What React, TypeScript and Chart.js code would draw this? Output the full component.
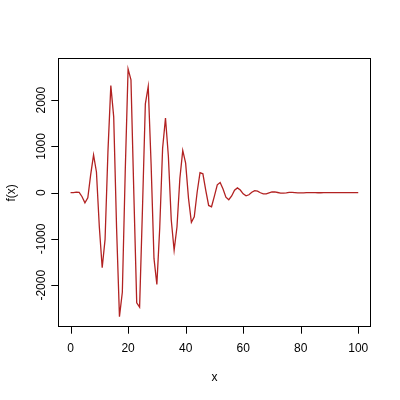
import { useEffect, useRef } from "react";
import { Chart, registerables } from "chart.js";

Chart.register(...registerables);

const xValues = [
  0, 1, 2, 3, 4, 5, 6, 7, 8, 9, 10, 11, 12, 13, 14, 15, 16, 17, 18, 19, 20,
  21, 22, 23, 24, 25, 26, 27, 28, 29, 30, 31, 32, 33, 34, 35, 36, 37, 38, 39, 40,
  41, 42, 43, 44, 45, 46, 47, 48, 49, 50, 51, 52, 53, 54, 55, 56, 57, 58, 59, 60,
  61, 62, 63, 64, 65, 66, 67, 68, 69, 70, 71, 72, 73, 74, 75, 76, 77, 78, 79, 80,
  81, 82, 83, 84, 85, 86, 87, 88, 89, 90, 91, 92, 93, 94, 95, 96, 97, 98, 99, 100,
];

const fValues = [
  0, 0.7, 9.8, 6.3, -87, -220, -109, 389, 818, 447, -736,
  -1622, -1009, 891, 2314, 1639, -769, -2680, -2154, 437, 2675,
  2440, -26, -2380, -2473, -348, 1922, 2296, 616, -1421, -1984,
  -757, 961, 1613, 788, -586, -1244, -737, 309, 914, 640,
  -123, -641, -524, 10, 431, 408, 50, -276, -305, -74,
  169, 220, 78, -97, -153, -70, 52, 103, 58, -24,
  -67, -45, 9, 43, 33, -1, -26, -24, -3, 15,
  16, 4, -9, -11, -4, 5, 7, 3, -2, -5,
  -2.5, 1.1, 2.8, 1.8, -0.4, -1.7, -1.3, 0, 1, 0.9,
  0.1, -0.6, -0.6, -0.1, 0.4, 0.5, 0.2, -0.3, -0.3, -0.1,
];

const xTicks = [0, 20, 40, 60, 80, 100];
const yTicks = [-2000, -1000, 0, 1000, 2000];
const xLabel = "x";
const yLabel = "f(x)";

const FONT = '12px "Liberation Sans", Arial, Helvetica, sans-serif';

const rBasePlot = {
  id: "rBasePlot",
  beforeDraw(chart: any) {
    const ctx = chart.ctx;
    ctx.save();
    ctx.fillStyle = "#ffffff";
    ctx.fillRect(0, 0, chart.width, chart.height);
    ctx.restore();
  },
  afterDraw(chart: any) {
    const ctx = chart.ctx;
    const { left, right, top, bottom } = chart.chartArea;
    const xs = chart.scales.x;
    const ys = chart.scales.y;
    ctx.save();
    ctx.strokeStyle = "#000000";
    ctx.lineWidth = 1;
    const L = Math.round(left) - 0.5;
    const R = Math.round(right) + 0.5;
    const T = Math.round(top) - 0.5;
    const B = Math.round(bottom) - 0.5;
    ctx.strokeRect(L, T, R - L, B - T);

    ctx.fillStyle = "#000000";
    ctx.font = FONT;
    // x ticks
    ctx.textAlign = "center";
    ctx.textBaseline = "alphabetic";
    ctx.beginPath();
    for (const t of xTicks) {
      const px = Math.round(xs.getPixelForValue(t)) + 0.5;
      ctx.moveTo(px, B);
      ctx.lineTo(px, B + 7.2);
    }
    ctx.stroke();
    for (const t of xTicks) {
      const px = xs.getPixelForValue(t);
      ctx.fillText(String(t), px, 352);
    }
    // y ticks
    ctx.beginPath();
    for (const t of yTicks) {
      const py = Math.round(ys.getPixelForValue(t)) + 0.5;
      ctx.moveTo(L, py);
      ctx.lineTo(L - 7.2, py);
    }
    ctx.stroke();
    for (const t of yTicks) {
      const py = ys.getPixelForValue(t);
      ctx.save();
      ctx.translate(45, py);
      ctx.rotate(-Math.PI / 2);
      ctx.textAlign = "center";
      ctx.textBaseline = "alphabetic";
      ctx.fillText(String(t), 0, 0);
      ctx.restore();
    }
    // axis titles
    ctx.textAlign = "center";
    ctx.fillText(xLabel, (left + right) / 2, 381);
    ctx.save();
    ctx.translate(15, (top + bottom) / 2);
    ctx.rotate(-Math.PI / 2);
    ctx.fillText(yLabel, 0, 0);
    ctx.restore();
    ctx.restore();
  },
};

export default function App() {
  const canvasRef = useRef<HTMLCanvasElement | null>(null);

  useEffect(() => {
    const canvas = canvasRef.current;
    if (!canvas) return;
    const chart = new Chart(canvas, {
      type: "line",
      data: {
        datasets: [
          {
            data: xValues.map((x, i) => ({ x, y: fValues[i] })),
            borderColor: "#B22222",
            borderWidth: 1.3,
            pointRadius: 0,
            tension: 0,
            fill: false,
          },
        ],
      },
      options: {
        animation: false,
        responsive: false,
        devicePixelRatio: 1,
        layout: {
          padding: { left: 59.04, right: 30.24, top: 59.04, bottom: 73.44 },
        },
        plugins: {
          legend: { display: false },
          tooltip: { enabled: false },
        },
        scales: {
          x: { type: "linear", min: -4, max: 104, display: false },
          y: { type: "linear", min: -2894, max: 2889, display: false },
        },
      },
      plugins: [rBasePlot],
    });
    return () => chart.destroy();
  }, []);

  return (
    <div style={{ position: "fixed", left: 0, top: 0, width: 400, height: 400, background: "#fff" }}>
      <canvas ref={canvasRef} width={400} height={400} style={{ display: "block" }} />
    </div>
  );
}
